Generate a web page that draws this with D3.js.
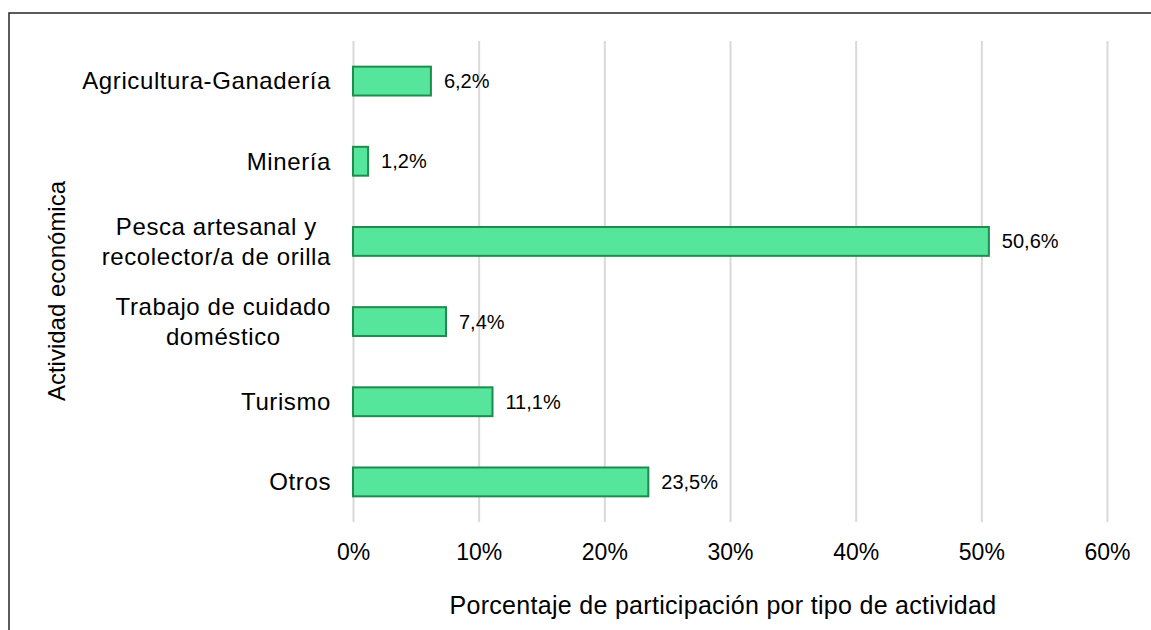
<!DOCTYPE html>
<html>
<head>
<meta charset="utf-8">
<script src="https://cdn.jsdelivr.net/npm/d3@7"></script>
<style>
  body { margin: 0; background: #fff; }
  svg text { font-family: "Liberation Sans", Arial, sans-serif; fill: #000; }
</style>
</head>
<body>
<svg id="chart"></svg>
<script>
let categories = [
    ["Agricultura-Ganadería"],
    ["Minería"],
    ["Pesca artesanal y", "recolector/a de orilla"],
    ["Trabajo de cuidado", "doméstico"],
    ["Turismo"],
    ["Otros"]
]
let values = [6.2, 1.2, 50.6, 7.4, 11.1, 23.5]
let tick_values = [0, 10, 20, 30, 40, 50, 60]
let x_title = "Porcentaje de participación por tipo de actividad"
let y_title = "Actividad económica"

let width = 1151
let height = 630
let margin = {left: 353, right: 44, top: 41, bottom: 108}

let svg = d3.select('#chart')
    .attr('width', width)
    .attr('height', height)

// frame (only top and left edges show inside the window)
svg.append("rect")
    .attr("x", 9)
    .attr("y", 13)
    .attr("width", 1300)
    .attr("height", 800)
    .attr("fill", "none")
    .attr("stroke", "#333")
    .attr("stroke-width", 1.6)

let x = d3.scaleLinear()
    .domain([0, 60])
    .range([margin.left, width - margin.right])

let y = d3.scaleBand()
    .domain(d3.range(categories.length))
    .range([margin.top, height - margin.bottom])
    .paddingInner(0.64)
    .paddingOuter(0.32)

// gridlines
let grid = svg.append("g")
    .attr("transform", "translate(0," + margin.top + ")")
    .call(d3.axisBottom(x)
        .tickValues(tick_values)
        .tickSize(height - margin.bottom - margin.top)
        .tickFormat(""))
grid.select(".domain").remove()
grid.selectAll("line")
    .attr("stroke", "#d9d9d9")
    .attr("stroke-width", 2)

// x tick labels
let xaxis = svg.append("g")
    .attr("transform", "translate(0," + (height - margin.bottom) + ")")
    .call(d3.axisBottom(x)
        .tickValues(tick_values)
        .tickSize(0)
        .tickPadding(22)
        .tickFormat(function(d){ return d + "%" }))
xaxis.select(".domain").remove()
xaxis.selectAll("text")
    .attr("font-size", 23)
    .attr("fill", "#000")

// bars
svg.append("g").selectAll("rect")
    .data(values)
    .enter()
    .append("rect")
    .attr("x", x(0))
    .attr("y", function(d, i){ return y(i) })
    .attr("width", function(d){ return x(d) - x(0) })
    .attr("height", y.bandwidth())
    .attr("fill", "#55e59b")
    .attr("stroke", "#1e8c4e")
    .attr("stroke-width", 2)

// data labels
svg.append("g").selectAll("text")
    .data(values)
    .enter()
    .append("text")
    .attr("x", function(d){ return x(d) + 13 })
    .attr("y", function(d, i){ return y(i) + y.bandwidth() / 2 })
    .attr("dy", "0.35em")
    .attr("font-size", 20)
    .text(function(d){ return d.toFixed(1).replace(".", ",") + "%" })

// category labels, multi-line ones centred in a block right-aligned at 330
let label_right = 331
let line_h = 30
let cat_g = svg.append("g").selectAll("text")
    .data(categories)
    .enter()
    .append("text")
    .attr("font-size", 24)
    .attr("letter-spacing", 0.6)
    .attr("text-anchor", "middle")

cat_g.each(function(lines, i){
    let t = d3.select(this)
    let cy = y(i) + y.bandwidth() / 2
    lines.forEach(function(s, j){
        t.append("tspan")
            .attr("y", cy + (j - (lines.length - 1) / 2) * line_h)
            .attr("dy", "0.35em")
            .text(s)
    })
    let w = d3.max(t.selectAll("tspan").nodes(), function(n){ return n.getComputedTextLength() })
    t.selectAll("tspan").attr("x", label_right - w / 2)
})

// axis titles
svg.append("text")
    .attr("x", 723)
    .attr("y", 605)
    .attr("dy", "0.35em")
    .attr("text-anchor", "middle")
    .attr("font-size", 25)
    .attr("letter-spacing", 0.3)
    .text(x_title)

svg.append("text")
    .attr("transform", "translate(57,291) rotate(-90)")
    .attr("dy", "0.35em")
    .attr("text-anchor", "middle")
    .attr("font-size", 24)
    .text(y_title)
</script>
</body>
</html>
